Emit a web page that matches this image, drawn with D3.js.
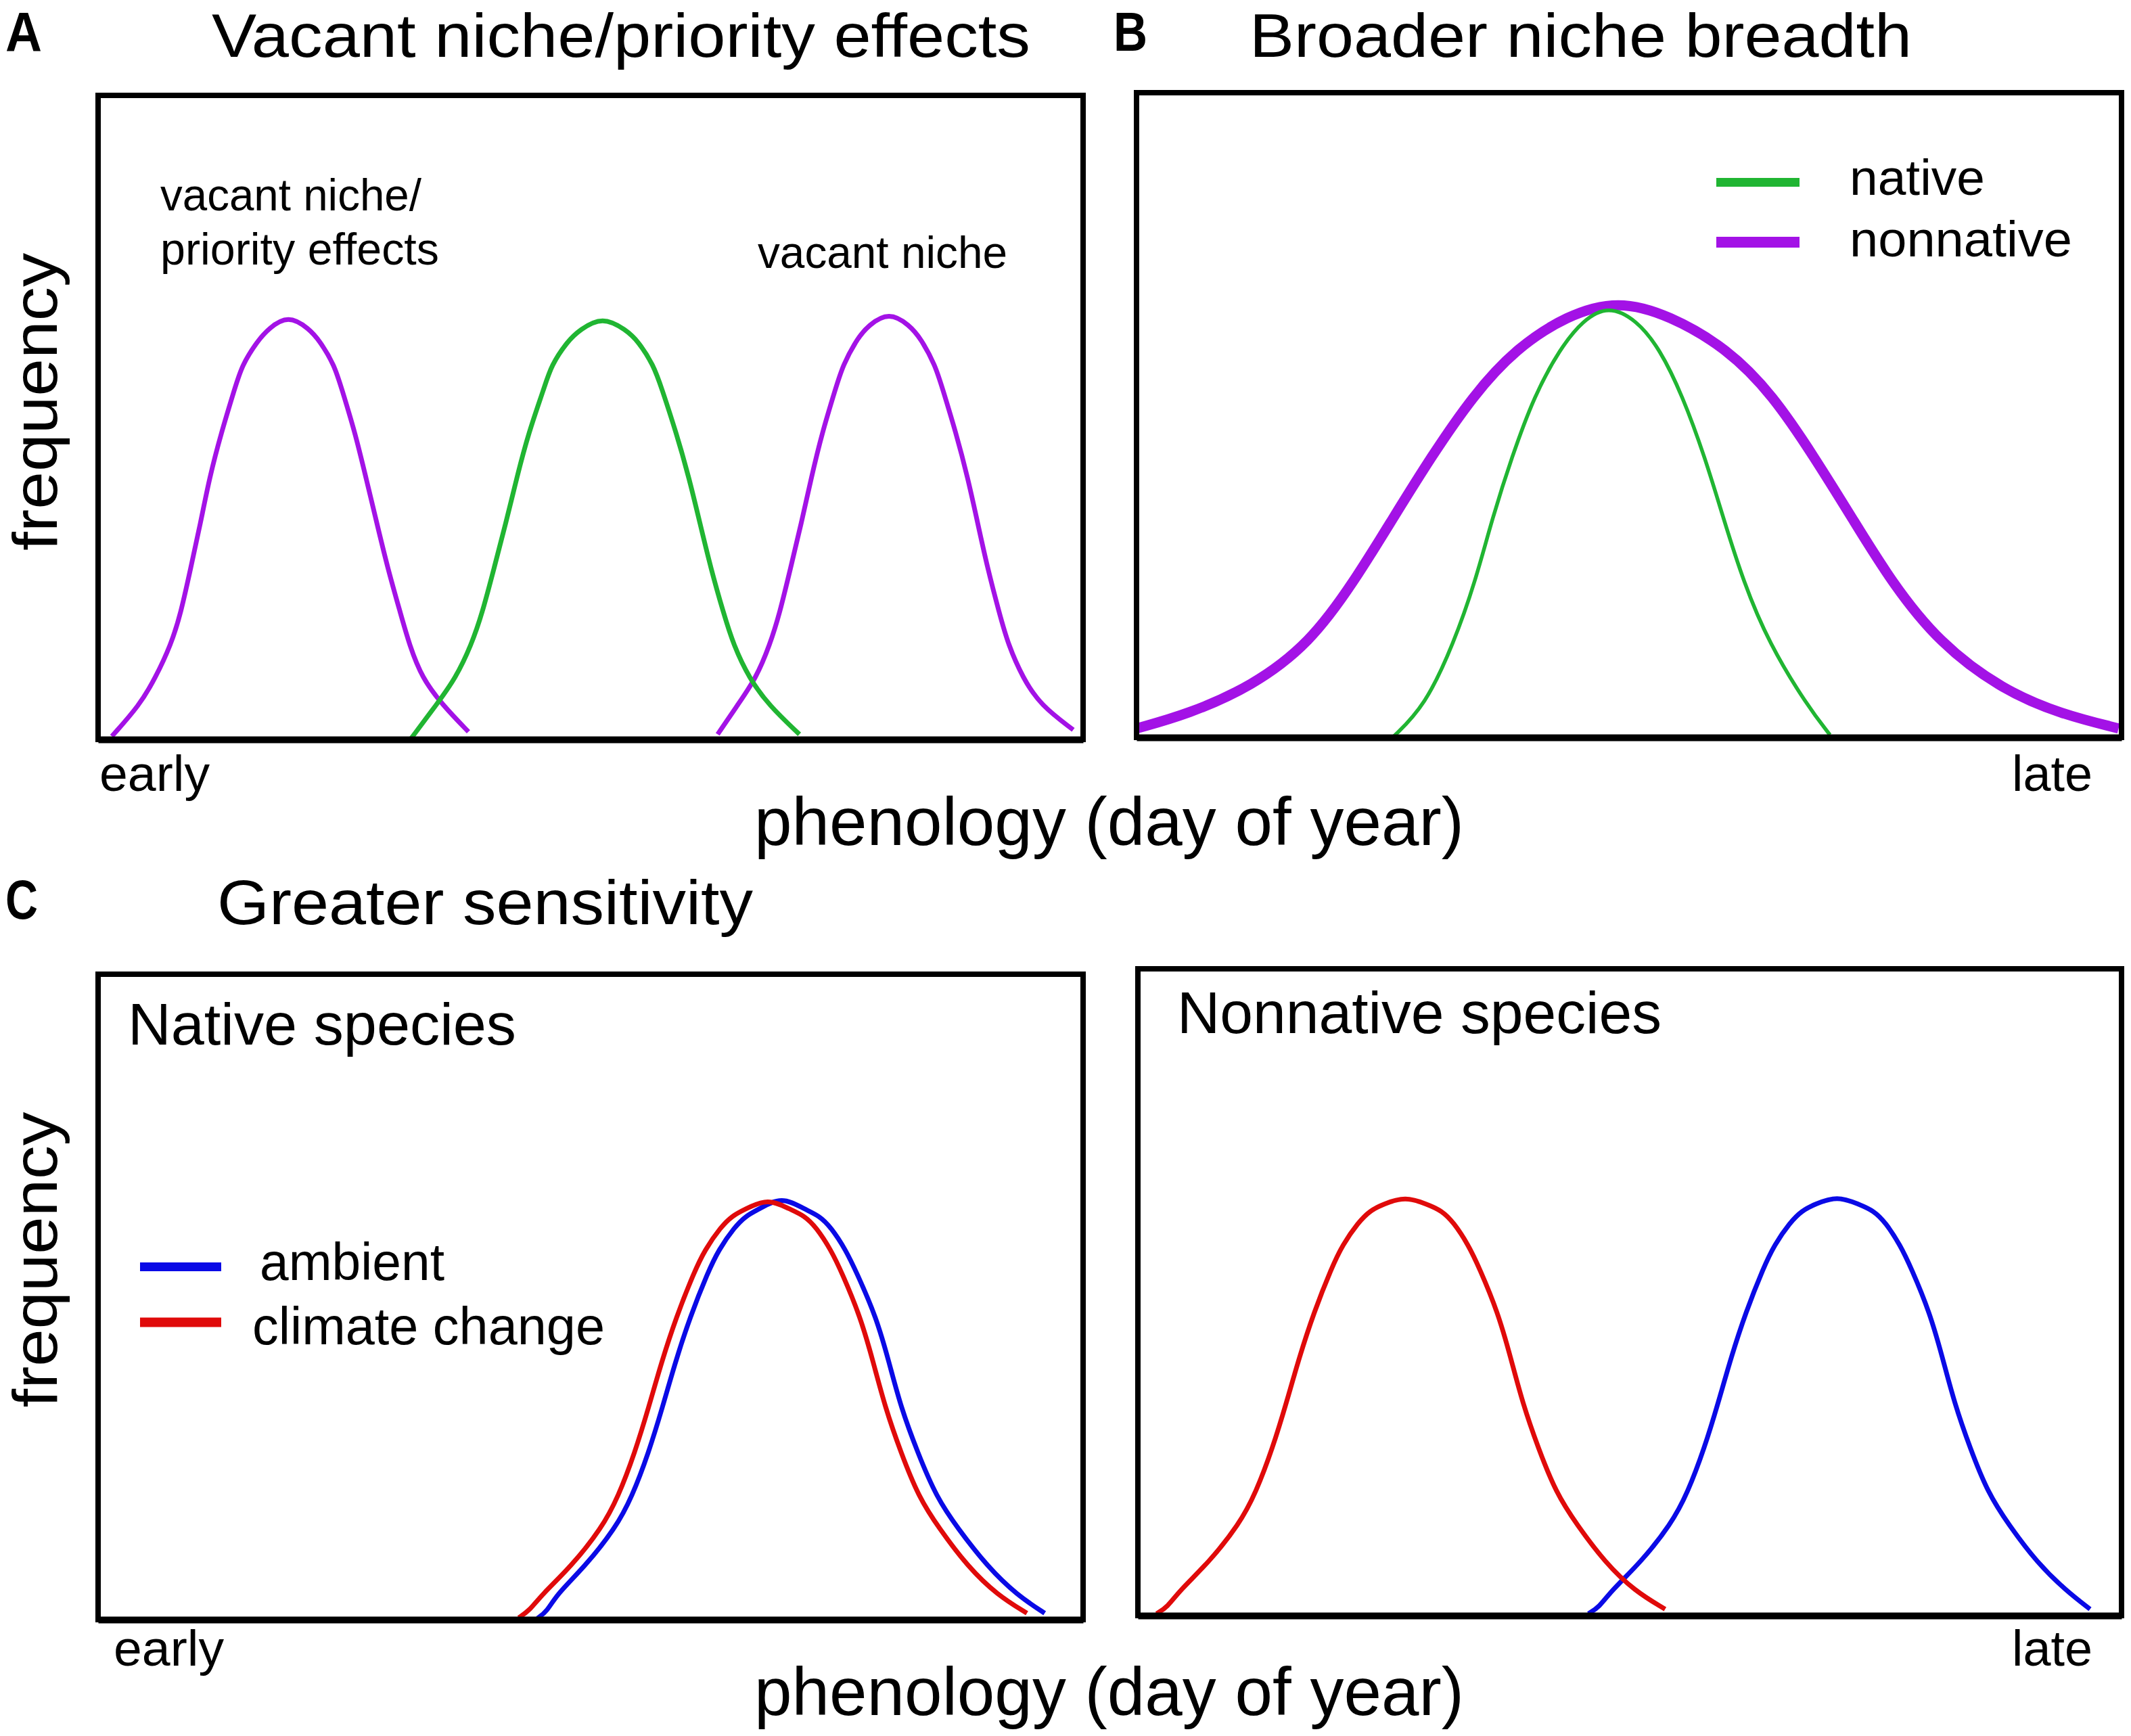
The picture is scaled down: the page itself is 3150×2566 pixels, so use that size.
<!DOCTYPE html>
<html>
<head>
<meta charset="utf-8">
<script src="https://cdn.jsdelivr.net/npm/d3@7"></script>
<style>
  html, body { margin: 0; padding: 0; background: #ffffff; }
  svg { display: block; }
  text { font-family: "Liberation Sans", Arimo, Arial, Helvetica, sans-serif; fill: #000; }
</style>
</head>
<body>
<svg id="chart" width="3150" height="2566"></svg>
<script>
// ---------------- DATA (x = phenology 0..100, y = frequency 0..100) ----------------
// Panel A: vacant niche / priority effects
const aNonnativeEarly = [[1.4,0.5],[4.2,5.3],[5.8,9.5],[7.4,14.7],[8.4,19.6],[9.4,26.6],[10.4,33.6],[11.3,40.6],[12.5,47.6],[13.9,54.6],[14.6,58.1],[16.2,61.9],[17.3,63.8],[19.3,65.9],[21.4,63.8],[22.5,61.9],[24.0,58.1],[24.7,54.6],[26.1,47.6],[27.2,40.6],[28.3,33.6],[29.4,26.6],[30.7,19.6],[31.6,14.7],[32.9,9.5],[35.0,5.3],[37.6,1.2]];
const aNative = [[31.8,0.2],[34.3,5.3],[36.3,9.5],[37.9,14.7],[39.0,19.6],[40.2,26.6],[41.4,33.6],[42.5,40.6],[43.7,47.6],[45.3,54.6],[46.0,58.1],[47.7,61.9],[48.9,63.6],[51.2,65.7],[53.6,63.6],[54.8,61.9],[56.4,58.1],[57.2,54.6],[58.7,47.6],[60.0,40.6],[61.1,33.6],[62.2,26.6],[63.5,19.6],[64.5,14.7],[66.1,9.5],[68.1,5.3],[71.2,0.8]];
const aNonnativeLate = [[62.9,0.8],[64.9,5.3],[66.8,9.5],[68.2,14.7],[69.2,19.6],[70.3,26.6],[71.4,33.6],[72.4,40.6],[73.5,47.6],[74.9,54.6],[75.6,58.1],[77.1,62.3],[78.2,64.3],[80.3,66.4],[82.4,64.3],[83.5,62.3],[85.0,58.1],[85.7,54.6],[87.1,47.6],[88.3,40.6],[89.3,33.6],[90.3,26.6],[91.5,19.6],[92.4,14.7],[93.9,9.5],[95.7,5.3],[99.0,1.5]];
// Panel B: broader niche breadth
const bNonnative = [[0,1.4],[5.2,3.6],[11.7,7.9],[17.6,14.6],[22.1,24.2],[26.0,33.9],[29.9,43.5],[34.2,53.1],[38.5,60.3],[43.7,65.5],[48.9,67.8],[54.1,65.5],[60.0,60.3],[64.6,53.1],[68.8,43.5],[72.7,33.9],[76.6,24.2],[81.5,14.6],[88.0,7.3],[93.9,3.6],[99.7,1.4]];
const bNative = [[26.0,0],[29.3,4.9],[32.2,14.6],[34.4,24.2],[36.1,33.9],[38.1,43.5],[40.4,53.1],[43.0,60.3],[45.3,64.7],[47.9,67.0],[50.8,64.7],[53.1,60.3],[55.4,53.1],[57.7,43.5],[59.6,33.9],[61.6,24.2],[64.2,14.6],[68.1,4.9],[70.4,0.4]];
// Panel C: greater sensitivity – native species
const cNativeAmbient = [[44.6,0.2],[45.6,1.3],[46.5,3.8],[49.4,8.2],[52.5,14.1],[54.2,19.0],[55.9,25.9],[57.3,32.9],[58.6,39.9],[60.1,46.9],[61.9,53.8],[63.0,57.3],[64.6,60.8],[65.8,62.6],[67.1,63.6],[69.4,65.6],[71.7,63.6],[73.2,62.6],[74.4,60.8],[75.9,57.3],[77.0,53.8],[79.0,46.9],[80.3,39.9],[81.5,32.9],[83.2,25.9],[85.1,19.0],[87.3,14.1],[90.3,8.2],[93.3,3.8],[96.1,1.0]];
const cNativeClimate = [[42.7,0.3],[43.8,1.4],[45.0,3.8],[48.0,8.2],[51.1,14.1],[52.8,19.0],[54.5,25.9],[55.9,32.9],[57.2,39.9],[58.7,46.9],[60.5,53.8],[61.6,57.3],[63.2,60.8],[64.4,62.6],[65.7,63.6],[68.0,65.3],[70.2,63.6],[71.7,62.6],[72.9,60.8],[74.4,57.3],[75.5,53.8],[77.4,46.9],[78.7,39.9],[79.9,32.9],[81.5,25.9],[83.3,19.0],[85.4,14.1],[88.3,8.2],[91.3,3.8],[94.3,1.0]];
// Panel C: greater sensitivity – nonnative species
const cNonnativeClimate = [[1.9,0.3],[3.0,1.3],[4.2,3.8],[7.2,8.2],[10.3,14.1],[12.0,19.0],[13.7,25.9],[15.1,32.9],[16.4,39.9],[17.9,46.9],[19.7,53.8],[20.8,57.3],[22.4,60.8],[23.6,62.6],[24.9,63.6],[27.2,64.8],[29.4,63.6],[30.9,62.6],[32.1,60.8],[33.6,57.3],[34.7,53.8],[36.6,46.9],[37.9,39.9],[39.1,32.9],[40.7,25.9],[42.5,19.0],[44.6,14.1],[47.5,8.2],[50.5,3.8],[53.6,1.0]];
const cNonnativeAmbient = [[45.8,0.3],[46.9,1.3],[48.1,3.8],[51.1,8.2],[54.2,14.1],[55.9,19.0],[57.6,25.9],[59.0,32.9],[60.3,39.9],[61.8,46.9],[63.6,53.8],[64.7,57.3],[66.3,60.8],[67.5,62.6],[68.8,63.6],[71.1,64.9],[73.3,63.6],[74.8,62.6],[76.0,60.8],[77.5,57.3],[78.6,53.8],[80.5,46.9],[81.8,39.9],[83.0,32.9],[84.6,25.9],[86.4,19.0],[88.5,14.1],[91.4,8.2],[94.4,3.8],[96.8,1.0]];

const panelLetters = ["A", "B", "C"];
const panelTitles = ["Vacant niche/priority effects", "Broader niche breadth", "Greater sensitivity"];
const axisEndLabels = ["early", "late"];
const xAxisTitle = "phenology (day of year)";
const yAxisTitle = "frequency";
const legendBLabels = ["native", "nonnative"];
const legendCLabels = ["ambient", "climate change"];
const annotationsA = ["vacant niche/", "priority effects", "vacant niche"];
const subTitlesC = ["Native species", "Nonnative species"];

// ---------------- STYLE / LAYOUT ----------------
const COL = { purple: "#a312e6", green: "#20b532", blue: "#0a0ae6", red: "#e00a0a" };

const svg = d3.select("#chart");
svg.append("rect").attr("width", 3150).attr("height", 2566).attr("fill", "#fff");

function makePanel(box) {
  const x = d3.scaleLinear().domain([0, 100]).range([box.l, box.r]);
  const y = d3.scaleLinear().domain([0, 100]).range([box.b, box.t]);
  return { x, y, box };
}
const pA = makePanel({ l: 145, r: 1601, t: 141, b: 1093 });
const pB = makePanel({ l: 1680, r: 3136, t: 137, b: 1090 });
const pC1 = makePanel({ l: 145, r: 1601, t: 1440, b: 2394 });
const pC2 = makePanel({ l: 1682, r: 3136, t: 1432, b: 2388 });

function drawCurve(p, data, color, width) {
  const line = d3.line().x(d => p.x(d[0])).y(d => p.y(d[1])).curve(d3.curveBasis);
  svg.append("path").datum(data).attr("d", line)
    .attr("fill", "none").attr("stroke", color).attr("stroke-width", width)
    .attr("stroke-linecap", "butt").attr("stroke-linejoin", "round");
}

function drawFrame(p) {
  const b = p.box;
  svg.append("rect").attr("x", b.l).attr("y", b.t).attr("width", b.r - b.l).attr("height", b.b - b.t)
    .attr("fill", "none").attr("stroke", "#000").attr("stroke-width", 8);
  const ax = d3.axisBottom(p.x).tickValues([]).tickSizeOuter(0);
  const g = svg.append("g").attr("transform", `translate(0,${b.b})`).call(ax);
  g.select(".domain").attr("stroke", "#000").attr("stroke-width", 10);
}

function txt(s, x, y, fs, len, opts = {}) {
  const t = svg.append("text").attr("x", x).attr("y", y).attr("font-size", fs).text(s);
  if (opts.bold) t.attr("font-weight", "bold");
  if (opts.anchor) t.attr("text-anchor", opts.anchor);
  if (len) t.attr("textLength", len).attr("lengthAdjust", "spacingAndGlyphs");
  return t;
}
function vtxt(s, cx, cy, fs, len) {
  svg.append("text").attr("transform", `translate(${cx},${cy}) rotate(-90)`)
    .attr("text-anchor", "middle").attr("font-size", fs)
    .attr("textLength", len).attr("lengthAdjust", "spacingAndGlyphs").text(s);
}

// ---------------- PANEL A ----------------
drawCurve(pA, aNonnativeEarly, COL.purple, 7);
drawCurve(pA, aNonnativeLate, COL.purple, 7);
drawCurve(pA, aNative, COL.green, 7);
drawFrame(pA);
txt(panelLetters[0], 8, 75, 82, 54, { bold: true });
txt(panelTitles[0], 313, 84, 90, 1210);
txt(annotationsA[0], 237, 311, 66, 386);
txt(annotationsA[1], 237, 391, 66, 412);
txt(annotationsA[2], 1120, 396, 66, 369);
txt(axisEndLabels[0], 147, 1169, 75, 163);
txt(xAxisTitle, 1115, 1249, 100, 1049);
vtxt(yAxisTitle, 84, 594, 92, 440);

// ---------------- PANEL B ----------------
drawCurve(pB, bNonnative, COL.purple, 15);
drawCurve(pB, bNative, COL.green, 5.5);
drawFrame(pB);
txt(panelLetters[1], 1646, 75, 82, 50, { bold: true });
txt(panelTitles[1], 1847, 84, 90, 979);
txt(axisEndLabels[1], 3093, 1169, 75, 119, { anchor: "end" });
const legB = [{ c: COL.green, w: 13, y: 269.5 }, { c: COL.purple, w: 16, y: 358 }];
legB.forEach(d => {
  svg.append("line").attr("x1", 2537).attr("x2", 2660).attr("y1", d.y).attr("y2", d.y)
    .attr("stroke", d.c).attr("stroke-width", d.w);
});
txt(legendBLabels[0], 2734, 288, 75, 200);
txt(legendBLabels[1], 2734, 379, 75, 329);

// ---------------- PANEL C ----------------
txt(panelLetters[2], 8, 1358, 82, 48, { bold: true });
txt(panelTitles[2], 321, 1366, 92, 792);

drawCurve(pC1, cNativeAmbient, COL.blue, 7);
drawCurve(pC1, cNativeClimate, COL.red, 7);
drawFrame(pC1);
txt(subTitlesC[0], 189, 1544, 88, 574);
const legC = [{ c: COL.blue, w: 13, y: 1872.5 }, { c: COL.red, w: 14, y: 1954.5 }];
legC.forEach(d => {
  svg.append("line").attr("x1", 207).attr("x2", 327).attr("y1", d.y).attr("y2", d.y)
    .attr("stroke", d.c).attr("stroke-width", d.w);
});
txt(legendCLabels[0], 384, 1892, 77, 273);
txt(legendCLabels[1], 373, 1987, 77, 521);
txt(axisEndLabels[0], 168, 2462, 75, 163);
vtxt(yAxisTitle, 84, 1862, 92, 437);

drawCurve(pC2, cNonnativeAmbient, COL.blue, 7);
drawCurve(pC2, cNonnativeClimate, COL.red, 7);
drawFrame(pC2);
txt(subTitlesC[1], 1740, 1527, 88, 716);
txt(axisEndLabels[1], 3093, 2462, 75, 119, { anchor: "end" });
txt(xAxisTitle, 1115, 2535, 100, 1049);
</script>
</body>
</html>
